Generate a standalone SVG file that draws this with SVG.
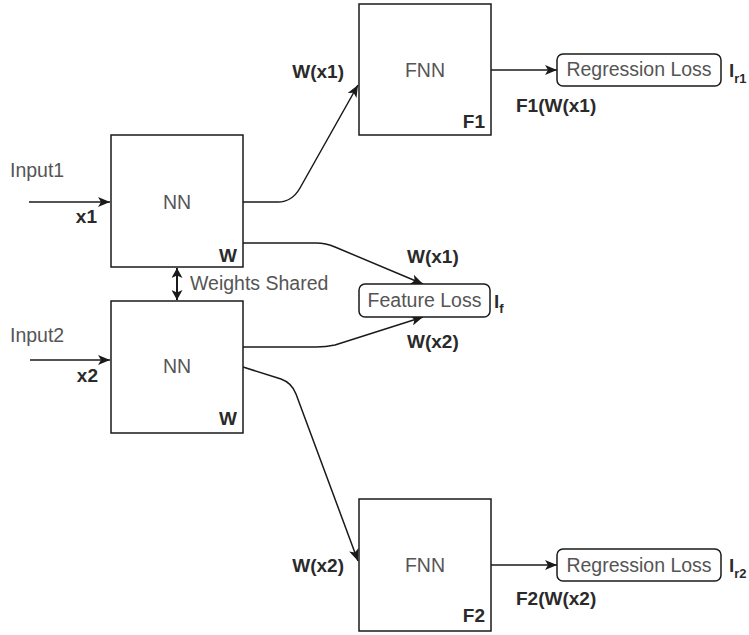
<svg xmlns="http://www.w3.org/2000/svg" width="749" height="635" viewBox="0 0 749 635">
  <defs>
    <marker id="arrow" viewBox="0 0 12 10" refX="12" refY="5" markerWidth="12" markerHeight="10" markerUnits="userSpaceOnUse" orient="auto-start-reverse">
      <path d="M0,0 L12,5 L0,10 L3,5 Z" fill="#1a1a1a"/>
    </marker>
    <marker id="arrowSmall" viewBox="0 0 10 11" refX="10" refY="5.5" markerWidth="10" markerHeight="11" markerUnits="userSpaceOnUse" orient="auto-start-reverse">
      <path d="M0,0 L10,5.5 L0,11 L2.5,5.5 Z" fill="#1a1a1a"/>
    </marker>
  </defs>
  <style>
    .box { fill: #ffffff; stroke: #1a1a1a; stroke-width: 1.5; }
    .loss { fill: #ffffff; stroke: #1a1a1a; stroke-width: 1.5; }
    .edge { fill: none; stroke: #1a1a1a; stroke-width: 1.5; }
    .shared { fill: none; stroke: #1a1a1a; stroke-width: 2; }
    .t { font-family: "Liberation Sans", Arial, sans-serif; font-size: 19.5px; fill: #555555; }
    .b { font-family: "Liberation Sans", Arial, sans-serif; font-size: 19px; font-weight: bold; fill: #2a2a2a; }
    .sub { font-size: 13px; }
    .mid { text-anchor: middle; }
    .end { text-anchor: end; }
  </style>

  <rect width="749" height="635" fill="#ffffff"/>

  <!-- connectors -->
  <g id="connectors">
    <path class="edge" d="M29,202 L110,202" marker-end="url(#arrow)"/>
    <path class="edge" d="M30,360 L110,360" marker-end="url(#arrow)"/>
    <path class="edge" d="M243,202 L278,202 Q292,202 300,188 L358,85" marker-end="url(#arrow)"/>
    <path class="edge" d="M243,243 L316,243 Q326,243 335,247 L423,284" marker-end="url(#arrow)"/>
    <path class="edge" d="M243,347 L316,347 Q326,347 335,345 L423,317" marker-end="url(#arrow)"/>
    <path class="edge" d="M243,367 L281,379 Q292,383 296,394 L358,561" marker-end="url(#arrow)"/>
    <path class="edge" d="M491,70 L557,70" marker-end="url(#arrow)"/>
    <path class="edge" d="M491,565 L557,565" marker-end="url(#arrow)"/>
    <path class="shared" d="M177,268 L177,300" marker-start="url(#arrowSmall)" marker-end="url(#arrowSmall)"/>
  </g>

  <!-- input labels -->
  <g id="input1">
    <text class="t" x="10" y="177">Input1</text>
    <text class="b end" x="97" y="223">x1</text>
  </g>
  <g id="input2">
    <text class="t" x="10" y="342">Input2</text>
    <text class="b end" x="98" y="382">x2</text>
  </g>

  <!-- shared encoder networks -->
  <g id="nn1">
    <rect class="box" x="111" y="135" width="132" height="132"/>
    <text class="t mid" x="177" y="209">NN</text>
    <text class="b end" x="237" y="262">W</text>
  </g>
  <g id="weights-shared">
    <text class="t" x="190" y="290">Weights Shared</text>
  </g>
  <g id="nn2">
    <rect class="box" x="111" y="301" width="132" height="132"/>
    <text class="t mid" x="177" y="373">NN</text>
    <text class="b end" x="237" y="425">W</text>
  </g>

  <!-- regression heads -->
  <g id="fnn1">
    <rect class="box" x="359" y="4" width="132" height="131"/>
    <text class="t mid" x="425" y="77">FNN</text>
    <text class="b end" x="485" y="128">F1</text>
    <text class="b end" x="344" y="78">W(x1)</text>
  </g>
  <g id="fnn2">
    <rect class="box" x="359" y="499" width="132" height="132"/>
    <text class="t mid" x="425" y="572">FNN</text>
    <text class="b end" x="485" y="622">F2</text>
    <text class="b end" x="344" y="572">W(x2)</text>
  </g>

  <!-- losses -->
  <g id="regression-loss-1">
    <rect class="loss" x="557" y="54" width="164" height="32" rx="6" ry="6"/>
    <text class="t mid" x="639" y="76">Regression Loss</text>
    <text class="b" x="729" y="77">l<tspan class="sub" dy="6">r1</tspan></text>
    <text class="b" x="516" y="112">F1(W(x1)</text>
  </g>
  <g id="feature-loss">
    <rect class="loss" x="359" y="284" width="131" height="33" rx="6" ry="6"/>
    <text class="t mid" x="424.5" y="307">Feature Loss</text>
    <text class="b" x="494" y="308">l<tspan class="sub" dy="5">f</tspan></text>
    <text class="b" x="407" y="263">W(x1)</text>
    <text class="b" x="407" y="348">W(x2)</text>
  </g>
  <g id="regression-loss-2">
    <rect class="loss" x="557" y="549" width="164" height="32" rx="6" ry="6"/>
    <text class="t mid" x="639" y="572">Regression Loss</text>
    <text class="b" x="729" y="572">l<tspan class="sub" dy="6">r2</tspan></text>
    <text class="b" x="516" y="605">F2(W(x2)</text>
  </g>
</svg>
